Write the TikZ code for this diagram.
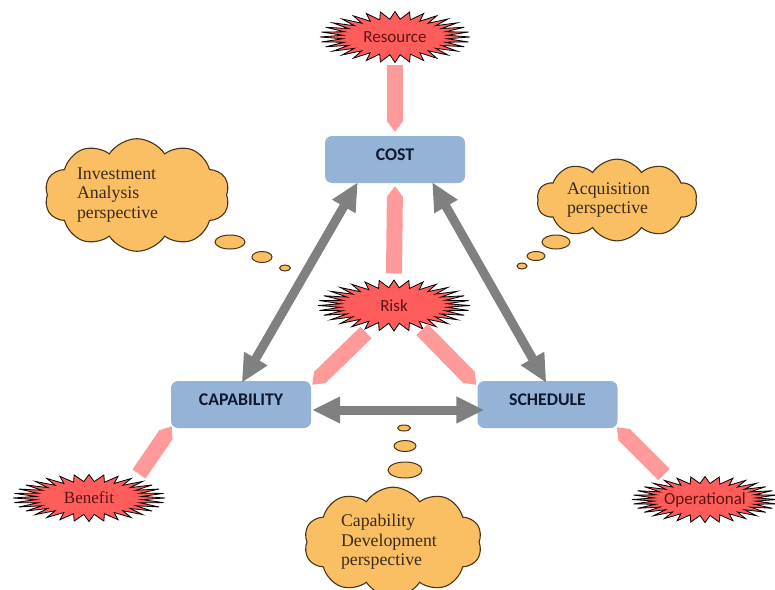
\documentclass[tikz,border=0pt]{standalone}
\usepackage{fontspec}
\setmainfont{Liberation Serif}
\newfontfamily\calib{Carlito}
\usetikzlibrary{shapes.symbols,shapes.geometric,arrows.meta,calc,backgrounds}
\definecolor{boxblue}{HTML}{95B3D7}
\definecolor{burstred}{HTML}{FF5C5C}
\definecolor{bursttext}{HTML}{5C1414}
\definecolor{pinkarr}{HTML}{FF9A9A}
\definecolor{cloudor}{HTML}{FBBF63}
\definecolor{cloudline}{HTML}{4A3418}
\definecolor{cloudtext}{HTML}{3B2A1A}
\definecolor{grayarr}{HTML}{808080}
\definecolor{navytext}{HTML}{101830}
\newcommand\burstpath[3]{% node, half width, half height
  \path[burstline] ($(#1.center)+(#2,0)$)
    \foreach \k [evaluate=\k as \r using {1-0.3*mod(\k,2)}] in {1,...,63} {
      -- ($(#1.center)+({#2*\r*cos(\k*5.625)},{#3*\r*sin(\k*5.625)})$) } -- cycle;}
\begin{document}
\begin{tikzpicture}[x=1pt,y=-1pt,
  box/.style={rectangle, rounded corners=7pt, fill=boxblue, minimum width=140pt, minimum height=47pt,
    font=\calib\bfseries\fontsize{17.8}{19}\selectfont, text=navytext, text height=12pt, text depth=10pt},
  burst/.style={ellipse, inner sep=1pt, text=bursttext, font=\calib\fontsize{17}{19}\selectfont},
  serifburst/.style={burst, font=\fontsize{17}{19}\selectfont},
  burstline/.style={fill=burstred, draw=black, line width=0.8pt, line join=miter},
  thought/.style={cloud, cloud puffs=10, cloud puff arc=115, cloud ignores aspect, fill=cloudor,
    draw=cloudline, line width=1.1pt, text=cloudtext, align=left, font=\fontsize{17.8}{19.5}\selectfont},
  bubble/.style={ellipse, fill=cloudor, draw=cloudline, line width=1pt, inner sep=0pt},
  pinkarrow/.style={draw=pinkarr, line width=16pt, -{Triangle[length=11pt,width=16pt]}},
  grayarrow/.style={draw=grayarr, line width=9pt,
    {Triangle[length=28pt,width=25pt]}-{Triangle[length=28pt,width=25pt]}}
]
\useasboundingbox (0,0) rectangle (775,589);

% boxes
\node[box] (cost) at (395,159.5) {COST};
\node[box] (cap) at (241,404.5) {CAPABILITY};
\node[box] (sched) at (547.5,404.5) {SCHEDULE};

% starbursts
\node[burst] (res) at (395,37) {Resource};
\node[burst] (risk) at (394,305.5) {Risk};
\node[serifburst] (ben) at (89,498) {Benefit};
\node[burst] (ops) at (705,499.5) {Operational};
\begin{scope}[on background layer]
  \burstpath{res}{75}{25.5}
  \burstpath{risk}{76}{25.5}
  \burstpath{ben}{76}{23.5}
  \burstpath{ops}{73}{23}
\end{scope}

% clouds
\node[thought, minimum width=185pt, minimum height=90pt, text width=120pt] (inv) at (137,195)
  {Investment\\Analysis\\perspective};
\node[thought, minimum width=160pt, minimum height=80pt, text width=100pt] (acq) at (617,200)
  {Acquisition\\perspective};
\node[thought, minimum width=178pt, minimum height=100pt, text width=104pt] (dev) at (393,542)
  {Capability\\Development\\perspective};

% thought bubbles
\node[bubble, minimum width=30pt, minimum height=14pt] (i1) at (230,242) {};
\node[bubble, minimum width=20pt, minimum height=11pt] (i2) at (262,257) {};
\node[bubble, minimum width=11pt, minimum height=6pt] (i3) at (285,268) {};
\node[bubble, minimum width=28pt, minimum height=14pt] (a1) at (556,242) {};
\node[bubble, minimum width=18pt, minimum height=9pt] (a2) at (536,256) {};
\node[bubble, minimum width=10pt, minimum height=6pt] (a3) at (522,266) {};
\node[bubble, minimum width=34pt, minimum height=16pt] (d1) at (405,470) {};
\node[bubble, minimum width=22pt, minimum height=11pt] (d2) at (405,446) {};
\node[bubble, minimum width=13pt, minimum height=6pt] (d3) at (404,428) {};

% pink arrows
\draw[pinkarrow] ($(res.center)+(0,28)$) -- ($(cost.north)+(0,-4)$);
\draw[pinkarrow] ($(risk.center)+(0,-32)$) -- ($(cost.south)+(0,3)$);
\draw[pinkarrow] ($(risk.center)+(-28,27)$) -- ($(cap.north east)+(1,4)$);
\draw[pinkarrow] ($(risk.center)+(28,24)$) -- ($(sched.north west)+(-1,4)$);
\draw[pinkarrow] ($(ben.center)+(50,-24)$) -- ($(cap.south west)+(1,-2)$);
\draw[pinkarrow] ($(ops.center)+(-41,-25)$) -- ($(sched.south east)+(-1,-1)$);

% gray double arrows
\draw[grayarrow] ($(cost.south west)+(33,-1)$) -- ($(cap.north west)+(71,2)$);
\draw[grayarrow] ($(cost.south east)+(-33,-1)$) -- ($(sched.north west)+(69,2)$);
\draw[grayarrow] ($(cap.east)+(1,5.5)$) -- ($(sched.west)+(7,5.5)$);
\end{tikzpicture}
\end{document}
